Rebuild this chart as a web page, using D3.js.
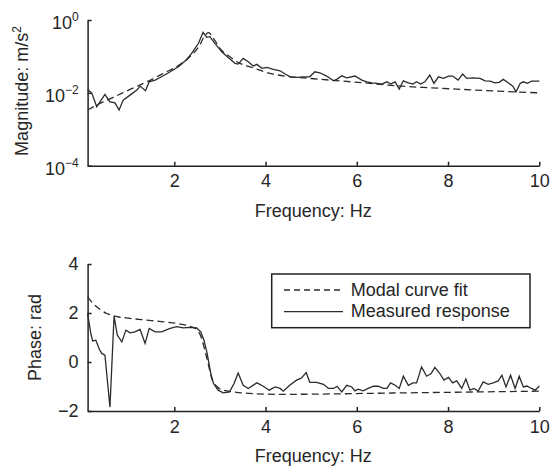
<!DOCTYPE html>
<html>
<head>
<meta charset="utf-8">
<script src="https://cdn.jsdelivr.net/npm/d3@7"></script>
<style>
  body { margin: 0; background: #fff; }
  text { font-family: "Liberation Sans", Arial, sans-serif; fill: #262626; }
</style>
</head>
<body>
<div class="chart"></div>
<script>
// frequency response: magnitude (log) and phase, measured vs modal fit

// magnitude, measured response (Hz, m/s^2)
var magMeasFreq = [0.10, 0.19, 0.30, 0.48, 0.59, 0.70, 0.79, 0.88, 1.03, 1.18, 1.25, 1.37, 1.45, 1.58, 1.72,
  1.91, 2.09, 2.26, 2.38, 2.53, 2.63, 2.71, 2.78, 2.89, 3.04, 3.20, 3.33, 3.40, 3.51, 3.62, 3.73, 3.81,
  3.92, 4.03, 4.17, 4.32, 4.43, 4.54, 4.68, 4.83, 4.97, 5.08, 5.19, 5.34, 5.49, 5.56, 5.67, 5.78, 5.96,
  6.11, 6.22, 6.33, 6.44, 6.55, 6.66, 6.74, 6.84, 6.93, 7.02, 7.13, 7.23, 7.31, 7.40, 7.49, 7.60, 7.69,
  7.79, 7.90, 8.01, 8.10, 8.22, 8.32, 8.41, 8.55, 8.70, 8.81, 8.92, 9.03, 9.12, 9.21, 9.32, 9.42, 9.49,
  9.58, 9.65, 9.74, 9.83, 10.0]
var magMeas = [0.0124, 0.0100, 0.00413, 0.00906, 0.00567, 0.00532, 0.00336, 0.00632, 0.00867, 0.0119,
  0.0153, 0.0114, 0.0201, 0.0224, 0.0276, 0.0379, 0.052, 0.0795, 0.121, 0.23, 0.46, 0.334, 0.348, 0.229,
  0.134, 0.0885, 0.0645, 0.0617, 0.0885, 0.0714, 0.0544, 0.0605, 0.0470, 0.0501, 0.0441, 0.0404, 0.0328,
  0.0276, 0.0266, 0.0276, 0.0276, 0.0379, 0.0356, 0.0289, 0.0214, 0.0234, 0.0294, 0.0259, 0.0289, 0.0224,
  0.0201, 0.0189, 0.0182, 0.0174, 0.0201, 0.0174, 0.0201, 0.0127, 0.0214, 0.0189, 0.0174, 0.0201, 0.0174,
  0.0201, 0.0308, 0.0182, 0.0276, 0.0249, 0.0289, 0.0289, 0.0224, 0.0328, 0.0249, 0.0259, 0.0249, 0.0214,
  0.0210, 0.0189, 0.0194, 0.0234, 0.0189, 0.0153, 0.0107, 0.0182, 0.0201, 0.0182, 0.0210, 0.0210]

// magnitude, modal curve fit
var magFitFreq = [0.10, 0.37, 0.66, 1.03, 1.40, 1.76, 2.13, 2.34, 2.56, 2.66, 2.75, 2.86, 3.00, 3.22,
  3.44, 3.66, 4.10, 4.54, 4.97, 5.41, 6.14, 6.87, 7.60, 8.33, 9.06, 10.0]
var magFit = [0.00336, 0.00513, 0.0075, 0.0124, 0.0201, 0.0343, 0.0605, 0.098, 0.206, 0.36, 0.45, 0.314,
  0.167, 0.098, 0.0645, 0.052, 0.0343, 0.0276, 0.0249, 0.0224, 0.0189, 0.0156, 0.0138, 0.0124, 0.0112, 0.0100]

// phase, measured response (Hz, rad)
var phMeasFreq = [0.10, 0.17, 0.21, 0.28, 0.36, 0.41, 0.48, 0.59, 0.68, 0.75, 0.85, 0.94, 1.03, 1.14,
  1.25, 1.36, 1.45, 1.58, 1.72, 1.91, 2.05, 2.20, 2.34, 2.49, 2.58, 2.65, 2.72, 2.80, 2.86, 2.96, 3.07,
  3.21, 3.31, 3.40, 3.51, 3.62, 3.81, 3.95, 4.08, 4.21, 4.32, 4.39, 4.53, 4.68, 4.79, 4.89, 4.97, 5.12,
  5.27, 5.38, 5.49, 5.57, 5.67, 5.78, 5.89, 5.96, 6.03, 6.14, 6.25, 6.36, 6.47, 6.58, 6.66, 6.74, 6.84,
  6.93, 7.02, 7.13, 7.23, 7.31, 7.42, 7.53, 7.63, 7.71, 7.82, 7.91, 8.01, 8.10, 8.19, 8.30, 8.39, 8.48,
  8.57, 8.66, 8.77, 8.88, 8.99, 9.10, 9.18, 9.27, 9.37, 9.47, 9.56, 9.65, 9.73, 9.83, 9.91, 10.0]
var phMeas = [1.98, 1.17, 0.86, 0.89, 0.51, 0.35, 0.28, -1.84, 1.87, 1.10, 0.82, 1.30, 1.19, 1.23, 1.33,
  0.76, 1.37, 1.23, 1.23, 1.37, 1.44, 1.39, 1.41, 1.39, 1.23, 0.89, 0.35, -0.47, -0.88, -1.15, -1.26,
  -1.22, -0.88, -0.45, -0.95, -1.08, -0.85, -0.99, -1.15, -1.02, -1.08, -1.19, -0.95, -0.74, -0.65, -0.43,
  -0.83, -0.83, -0.91, -1.08, -1.08, -0.99, -1.22, -0.95, -1.02, -1.18, -1.11, -1.18, -1.08, -0.99, -0.99,
  -1.08, -1.08, -0.85, -0.95, -1.08, -0.58, -0.95, -0.85, -0.85, -0.20, -0.58, -0.47, -0.22, -0.47, -0.74,
  -0.63, -0.85, -0.77, -1.08, -0.69, -1.15, -1.08, -1.19, -0.81, -0.91, -0.85, -0.77, -0.54, -1.02, -0.54,
  -1.08, -0.58, -1.02, -0.98, -1.08, -1.15, -0.98]

// phase, modal curve fit
var phFitFreq = [0.10, 0.22, 0.37, 0.52, 0.66, 1.03, 1.40, 1.76, 2.13, 2.34, 2.49, 2.60, 2.67, 2.75,
  2.82, 2.93, 3.07, 3.29, 3.73, 4.32, 7.02, 10.0]
var phFit = [2.66, 2.39, 2.15, 1.98, 1.89, 1.78, 1.71, 1.64, 1.55, 1.46, 1.33, 0.96, 0.48, -0.13, -0.67,
  -0.99, -1.15, -1.22, -1.29, -1.32, -1.26, -1.19]

var freqTicks = [2, 4, 6, 8, 10]
var magTicks = [1e-4, 1e-2, 1]
var magExp = { 1e-4: '\u22124', 1e-2: '\u22122', 1: '0' }
var phTicks = [-2, 0, 2, 4]
var legendLabels = ['Modal curve fit', 'Measured response']

var width = 557
var height = 466
var ink = '#222'

var svg = d3.select('.chart')
  .append('svg')
  .attr('width', width)
  .attr('height', height)

// shared frequency scale
var x = d3.scaleLinear().domain([0.1, 10]).range([87.6, 539.3])

var yMag = d3.scaleLog().domain([1e-4, 1]).range([165.7, 20])
var yPh = d3.scaleLinear().domain([-2, 4]).range([411, 264])

function styleAxis (g) {
  g.select('.domain').attr('stroke', ink).attr('stroke-width', 1.5)
  g.selectAll('.tick line').attr('stroke', ink).attr('stroke-width', 1.5)
  g.selectAll('.tick text').attr('font-size', 18).style('font-family', '"Liberation Sans", Arial, sans-serif').attr('fill', '#262626')
}

function xAxisAt (y0) {
  svg.append('g')
    .attr('transform', 'translate(0,' + y0 + ')')
    .call(d3.axisBottom(x).tickValues(freqTicks).tickSizeInner(-4).tickSizeOuter(0).tickPadding(9))
    .call(styleAxis)
  svg.append('text')
    .attr('x', 313.3)
    .attr('y', y0 + 51)
    .attr('text-anchor', 'middle')
    .attr('font-size', 18)
    .text('Frequency: Hz')
}

// ---- magnitude panel ----
xAxisAt(165.7)

var gMag = svg.append('g')
  .attr('transform', 'translate(87.6,0)')
  .call(d3.axisLeft(yMag).tickValues(magTicks).tickSizeInner(-4).tickSizeOuter(0).tickPadding(9).tickFormat(''))
  .call(styleAxis)

gMag.selectAll('.tick text')
  .attr('dy', '0.47em')
  .each(function (d) {
    var t = d3.select(this)
    t.append('tspan').text('10')
    t.append('tspan').attr('font-size', 12).attr('dy', -7.5).text(magExp[d])
  })

var magTitle = svg.append('text')
  .attr('transform', 'translate(28,91) rotate(-90)')
  .attr('text-anchor', 'middle')
  .attr('font-size', 18)
magTitle.append('tspan').text('Magnitude: m/s')
magTitle.append('tspan').attr('font-size', 12).attr('dy', -7).text('2')

var magLine = d3.line()
  .x(function (d) { return x(d[0]) })
  .y(function (d) { return yMag(d[1]) })

svg.append('path')
  .datum(d3.zip(magFitFreq, magFit))
  .attr('fill', 'none')
  .attr('stroke', '#2b2b2b')
  .attr('stroke-width', 1.3)
  .attr('stroke-dasharray', '7,4')
  .attr('d', magLine.curve(d3.curveMonotoneX))

svg.append('path')
  .datum(d3.zip(magMeasFreq, magMeas))
  .attr('fill', 'none')
  .attr('stroke', '#2b2b2b')
  .attr('stroke-width', 1.3)
  .attr('d', magLine.curve(d3.curveLinear))

// ---- phase panel ----
xAxisAt(411)

svg.append('g')
  .attr('transform', 'translate(87.6,0)')
  .call(d3.axisLeft(yPh).tickValues(phTicks).tickSizeInner(-4).tickSizeOuter(0).tickPadding(9)
    .tickFormat(function (d) { return d < 0 ? '\u2212' + Math.abs(d) : d }))
  .call(styleAxis)

svg.append('text')
  .attr('transform', 'translate(41.3,337.5) rotate(-90)')
  .attr('text-anchor', 'middle')
  .attr('font-size', 18)
  .text('Phase: rad')

var phLine = d3.line()
  .x(function (d) { return x(d[0]) })
  .y(function (d) { return yPh(d[1]) })

svg.append('path')
  .datum(d3.zip(phFitFreq, phFit))
  .attr('fill', 'none')
  .attr('stroke', '#2b2b2b')
  .attr('stroke-width', 1.3)
  .attr('stroke-dasharray', '7,4')
  .attr('d', phLine.curve(d3.curveMonotoneX))

svg.append('path')
  .datum(d3.zip(phMeasFreq, phMeas))
  .attr('fill', 'none')
  .attr('stroke', '#2b2b2b')
  .attr('stroke-width', 1.3)
  .attr('d', phLine.curve(d3.curveLinear))

// legend box
var legend = svg.append('g').attr('transform', 'translate(271.7,274)')
legend.append('rect')
  .attr('width', 258.3)
  .attr('height', 53.7)
  .attr('fill', '#fff')
  .attr('stroke', ink)
  .attr('stroke-width', 1.5)

var item = legend.selectAll('.item')
  .data(legendLabels)
  .enter().append('g')
  .attr('class', 'item')
  .attr('transform', function (d, i) { return 'translate(0,' + (16 + i * 21.7) + ')' })

item.append('line')
  .attr('x1', 12.3)
  .attr('x2', 71.3)
  .attr('stroke', '#2b2b2b')
  .attr('stroke-width', 1.3)
  .attr('stroke-dasharray', function (d, i) { return i === 0 ? '6,4' : null })

item.append('text')
  .attr('x', 79)
  .attr('y', 5.5)
  .attr('font-size', 18)
  .text(function (d) { return d })
</script>
</body>
</html>
